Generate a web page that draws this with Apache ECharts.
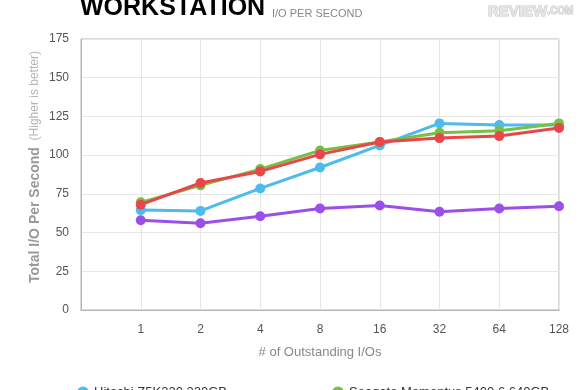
<!DOCTYPE html>
<html>
<head>
<meta charset="utf-8">
<script src="https://cdn.jsdelivr.net/npm/echarts@6/dist/echarts.min.js"></script>
<style>
html,body{margin:0;padding:0;background:#fff;}
#c{width:580px;height:390px;}
</style>
</head>
<body>
<div id="c"></div>
<script>
var categories = ['', '1', '2', '4', '8', '16', '32', '64', '128'];
var seriesNames = ['Hitachi Z5K320 320GB', 'Seagate Momentus 5400.6 640GB', 'WD Scorpio Blue 500GB', 'Toshiba MK5055GSX 500GB'];
var hitachi = [null, 64.5, 64, 78.5, 92, 106.3, 120.5, 119.5, 119.5];
var seagate = [null, 69.5, 80.5, 91, 103, 108.5, 114.5, 115.8, 120.5];
var wd = [null, 68, 82, 89.5, 100.5, 108.5, 111, 112.3, 117.5];
var toshiba = [null, 58, 56, 60.5, 65.5, 67.5, 63.5, 65.5, 67];
var yTicks = [0, 25, 50, 75, 100, 125, 150, 175];

var colors = ['#4dbbee', '#76c043', '#e8474a', '#9b4fe8'];
var values = [hitachi, seagate, wd, toshiba];
var FONT = '"Liberation Sans", Arial, sans-serif';

function legendAt(name, left, top) {
  return {data: [name], left: left, top: top, icon: 'circle', itemWidth: 12, itemHeight: 12,
    textStyle: {fontFamily: FONT, fontSize: 13, color: '#333'}};
}

var chart = echarts.init(document.getElementById('c'), null, {renderer: 'canvas'});
chart.setOption({
  animation: false,
  backgroundColor: '#fff',
  textStyle: {fontFamily: FONT},
  title: [
    {text: 'WORKSTATION', left: 80, top: -4, padding: 0, textStyle: {fontFamily: FONT, fontSize: 25, fontWeight: 'bold', color: '#000'}},
    {text: 'I/O PER SECOND', left: 272, top: 8, padding: 0, textStyle: {fontFamily: FONT, fontSize: 11, fontWeight: 'normal', color: '#888'}},
    {text: '{a|REVIEW}{b|.COM}', left: 488, top: 4, padding: 0, textStyle: {rich: {
      a: {fontFamily: FONT, fontSize: 15, fontWeight: 'bold', color: '#e6e6e6', textBorderColor: '#c4c4c4', textBorderWidth: 1},
      b: {fontFamily: FONT, fontSize: 10, fontWeight: 'bold', color: '#e6e6e6', textBorderColor: '#c4c4c4', textBorderWidth: 1}
    }}}
  ],
  grid: {left: 81, right: 21, top: 39, bottom: 80, show: true, borderColor: '#b5b5b5', borderWidth: 1, backgroundColor: 'transparent'},
  legend: [
    legendAt(seriesNames[0], 72, 381),
    legendAt(seriesNames[1], 327, 381),
    legendAt(seriesNames[2], 72, 405),
    legendAt(seriesNames[3], 327, 405)
  ],
  graphic: [{
    type: 'text', x: 35, y: 167, rotation: Math.PI / 2,
    style: {
      text: '{a|Total I/O Per Second}  {b|(Higher is better)}',
      align: 'center', verticalAlign: 'middle',
      rich: {
        a: {fill: '#999', fontSize: 14, fontWeight: 'bold', fontFamily: FONT},
        b: {fill: '#b5b5b5', fontSize: 12, fontFamily: FONT}
      }
    }
  }],
  xAxis: {
    type: 'category',
    data: categories,
    boundaryGap: false,
    axisLine: {show: true, lineStyle: {color: '#b5b5b5'}},
    axisTick: {show: false},
    axisLabel: {color: '#555', fontSize: 12, margin: 14, fontFamily: FONT},
    splitLine: {show: true, lineStyle: {color: '#e6e6e6'}},
    name: '# of Outstanding I/Os',
    nameLocation: 'middle',
    nameGap: 36,
    nameTextStyle: {color: '#888', fontSize: 13, fontFamily: FONT}
  },
  yAxis: {
    type: 'value',
    min: 0, max: 175, interval: 25,
    axisLine: {show: true, lineStyle: {color: '#b5b5b5'}},
    axisTick: {show: false},
    axisLabel: {color: '#555', fontSize: 12, margin: 12, fontFamily: FONT,
      formatter: function (v) { return yTicks.indexOf(v) >= 0 ? String(v) : ''; }},
    splitLine: {show: true, lineStyle: {color: '#e6e6e6'}}
  },
  series: values.map(function (d, i) {
    return {
      name: seriesNames[i], type: 'line', data: d,
      symbol: 'circle', symbolSize: 10, showSymbol: true,
      connectNulls: false,
      lineStyle: {width: 3, color: colors[i]},
      itemStyle: {color: colors[i]},
      z: [2, 3, 4, 1][i]
    };
  })
});
</script>
</body>
</html>
